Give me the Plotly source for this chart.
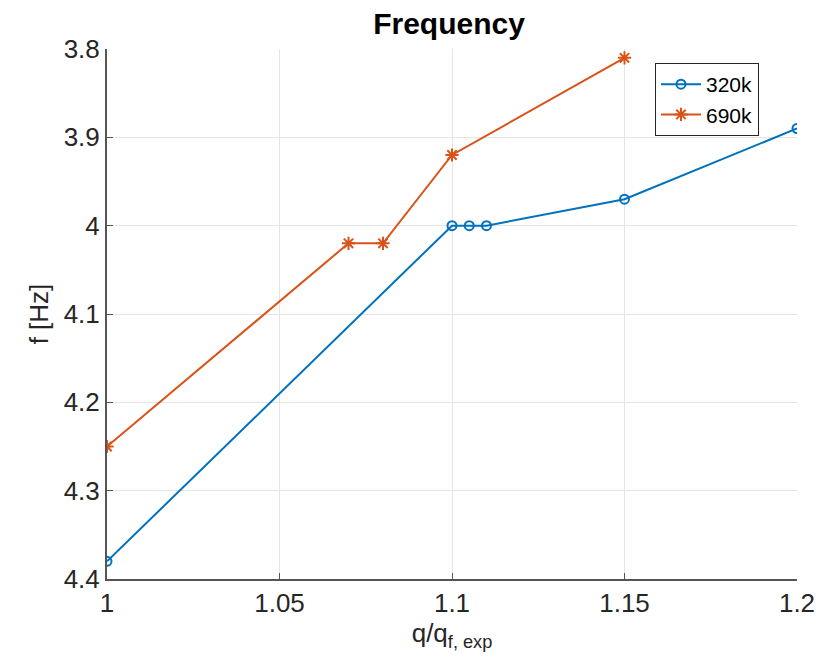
import plotly.graph_objects as go

x_320 = [1.0, 1.1, 1.105, 1.11, 1.15, 1.2]
y_320 = [4.38, 4.0, 4.0, 4.0, 3.97, 3.89]
x_690 = [1.0, 1.07, 1.08, 1.1, 1.15]
y_690 = [4.25, 4.02, 4.02, 3.92, 3.81]
x_ticks = [1, 1.05, 1.1, 1.15, 1.2]
x_ticklabels = ["1", "1.05", "1.1", "1.15", "1.2"]
y_ticks = [3.8, 3.9, 4.0, 4.1, 4.2, 4.3, 4.4]
y_ticklabels = ["3.8", "3.9", "4", "4.1", "4.2", "4.3", "4.4"]

blue = "#0072BD"
orange = "#D95319"
font = "Liberation Sans, Arial, sans-serif"

fig = go.Figure()
fig.add_trace(go.Scatter(x=x_320, y=y_320, name="320k", mode="lines+markers",
                         line=dict(color=blue, width=2),
                         marker=dict(symbol="circle-open", size=9, color=blue, line=dict(width=2))))
fig.add_trace(go.Scatter(x=x_690, y=y_690, name="690k", mode="lines+markers",
                         line=dict(color=orange, width=2),
                         marker=dict(symbol="asterisk-open", size=11, color=orange, line=dict(width=2))))

fig.update_layout(
    width=831, height=666,
    margin=dict(l=107, r=34, t=49, b=87),
    paper_bgcolor="white", plot_bgcolor="white",
    font=dict(family=font, size=26, color="#262626"),
    title=dict(text="<b>Frequency</b>", x=449 / 831, xanchor="center",
               y=1 - 23 / 666, yanchor="middle", font=dict(size=30, color="black")),
    showlegend=True,
    legend=dict(x=(655 - 107) / 690, y=(579 - 63) / 530, xanchor="left", yanchor="top",
                bgcolor="white", bordercolor="#262626", borderwidth=1,
                font=dict(size=21, color="black"), tracegroupgap=0, itemwidth=40),
    xaxis=dict(range=[1, 1.2], tickvals=x_ticks, ticktext=x_ticklabels,
               showgrid=True, gridcolor="#E5E5E5", gridwidth=1,
               showline=True, linecolor="#555555", linewidth=2,
               ticks="inside", ticklen=6, tickcolor="#555555", zeroline=False,
               tickfont=dict(size=26),
               title=dict(text="q/q<sub>f, exp</sub>", font=dict(size=26), standoff=6)),
    yaxis=dict(range=[4.4, 3.8], tickvals=y_ticks, ticktext=y_ticklabels,
               showgrid=True, gridcolor="#E5E5E5", gridwidth=1,
               showline=True, linecolor="#555555", linewidth=2,
               ticks="inside", ticklen=6, tickcolor="#555555", zeroline=False,
               tickfont=dict(size=26),
               title=dict(text="f [Hz]", font=dict(size=26), standoff=8)),
)

fig.write_html("out.html")
